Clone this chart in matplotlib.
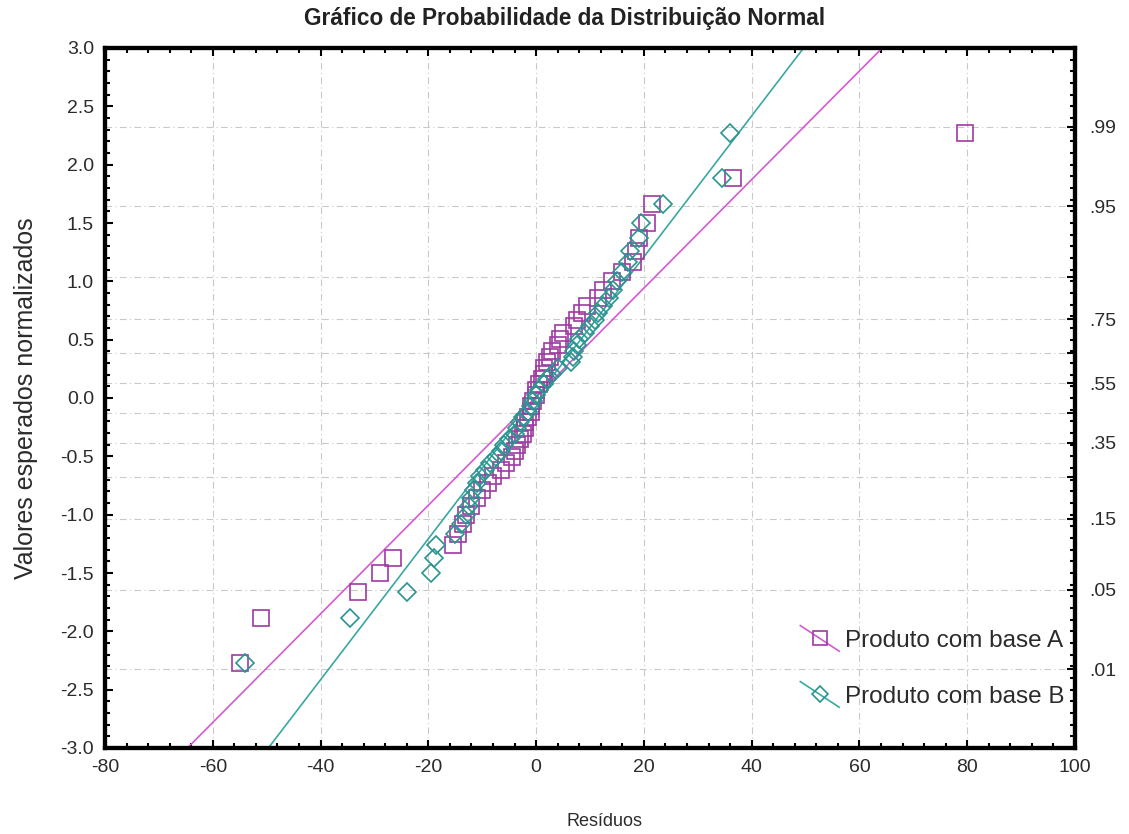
import numpy as np
import matplotlib
matplotlib.use("Agg")
import matplotlib.pyplot as plt
from matplotlib.lines import Line2D
from matplotlib.legend_handler import HandlerBase
from matplotlib.ticker import MultipleLocator, FixedLocator
from statistics import NormalDist

plt.rcParams['font.family'] = ['Liberation Sans', 'DejaVu Sans']
plt.rcParams['axes.unicode_minus'] = False

# residuos ordenados de cada produto
residuos_a = [-55, -51, -33, -29, -26.5, -15.5, -14.5, -13.5, -13, -12,
              -11, -10, -9, -8, -6.5, -5.5, -4.5, -4, -3.5, -3,
              -2.5, -2, -2, -1.5, -1, -1, -0.5, 0, 0, 0.5,
              1, 1.5, 1.5, 2, 2.5, 3, 4, 4.5, 5, 7,
              7.5, 8.5, 9.5, 11.5, 12.5, 14, 16, 18, 18.5, 19,
              20.5, 21.5, 36.5, 79.5]
residuos_b = [-54, -34.5, -24, -19.5, -19, -18.5, -15, -14, -13, -12.5,
              -12, -11.5, -11, -10.5, -9.5, -8.5, -7.5, -6.5, -6, -5,
              -4, -3.5, -3, -2.5, -1.5, -1, -0.5, 0, 0.5, 1.5,
              2, 3, 4, 6.5, 6.8, 7, 7.5, 8, 9, 10,
              11, 11.5, 12.5, 13.5, 14.3, 15, 16, 17, 17.5, 19,
              19.5, 23.5, 34.5, 36]

nomes = ['Produto com base A', 'Produto com base B']
x_ticks = list(range(-80, 101, 20))
y_ticks = [-3.0, -2.5, -2.0, -1.5, -1.0, -0.5, 0.0, 0.5, 1.0, 1.5, 2.0, 2.5, 3.0]
prob_grade = [.01, .05, .15, .25, .35, .45, .55, .65, .75, .85, .95, .99]
prob_rotulos = [.01, .05, .15, .35, .55, .75, .95, .99]

cor_a, linha_a = '#a03aa3', '#d45ad4'
cor_b, linha_b = '#2a9590', '#38a8a0'
cinza = '#c9c9c9'
texto = '#2b2b2b'

nd = NormalDist()


def valores_esperados(n):
    # posicoes de Blom: (j - 3/8) / (n + 1/4)
    return np.array([nd.inv_cdf((j - 0.375) / (n + 0.25)) for j in range(1, n + 1)])


class HandlerDiagonal(HandlerBase):
    def __init__(self, cor_linha):
        super().__init__()
        self.cor_linha = cor_linha

    def create_artists(self, legend, orig_handle, xdescent, ydescent,
                       width, height, fontsize, trans):
        x0, x1 = -xdescent, -xdescent + width
        ym = -ydescent + height / 2
        diag = Line2D([x0, x1], [ym + 0.33 * width, ym - 0.33 * width],
                      color=self.cor_linha, lw=1.2)
        marca = Line2D([(x0 + x1) / 2], [ym], marker=orig_handle.get_marker(),
                       markersize=orig_handle.get_markersize() * 0.85, mfc='none',
                       mec=orig_handle.get_markeredgecolor(),
                       mew=orig_handle.get_markeredgewidth(), ls='none')
        diag.set_transform(trans)
        marca.set_transform(trans)
        return [diag, marca]


fig = plt.figure(figsize=(11.29, 8.34), dpi=100)
ax = fig.add_axes([105 / 1129, 86 / 834, 970 / 1129, 700 / 834])
ax.set_xlim(-80, 100)
ax.set_ylim(-3, 3)

# grade vertical nos ticks principais e horizontal nas probabilidades
for xv in x_ticks:
    ax.axvline(xv, color=cinza, lw=0.8, ls=(0, (6, 3, 1, 3)), zorder=0)
for p in prob_grade:
    ax.axhline(nd.inv_cdf(p), color=cinza, lw=0.8, ls=(0, (6, 3, 1, 3)), zorder=0)

handles = []
for res, cor, cl, mk, ms in [(residuos_a, cor_a, linha_a, 's', 12),
                             (residuos_b, cor_b, linha_b, 'D', 9)]:
    x = np.array(res)
    z = valores_esperados(len(x))
    a, b = np.polyfit(x, z, 1)
    zz = np.array([-3.5, 3.5])
    ax.plot((zz - b) / a, zz, color=cl, lw=1.2, zorder=2)
    h, = ax.plot(x, z, ls='none', marker=mk, ms=ms, mfc='none', mec=cor,
                 mew=1.2, zorder=3)
    handles.append(h)

ax.xaxis.set_major_locator(FixedLocator(x_ticks))
ax.xaxis.set_minor_locator(MultipleLocator(4))
ax.set_yticks(y_ticks)
ax.set_yticklabels([f'{v:.1f}' for v in y_ticks])
ax.yaxis.set_minor_locator(MultipleLocator(0.1))
ax.tick_params(which='both', direction='in', top=True, right=False,
               colors='black', labelcolor=texto, labelsize=14, width=1.5)
ax.tick_params(which='major', length=6, pad=8)
ax.tick_params(which='minor', length=3.5)
for s in ax.spines.values():
    s.set_linewidth(3)

ax2 = ax.twinx()
ax2.set_ylim(-3, 3)
ax2.yaxis.set_major_locator(FixedLocator([nd.inv_cdf(p) for p in prob_grade]))
ax2.set_yticklabels([('%.2f' % p)[1:] if p in prob_rotulos else '' for p in prob_grade])
ax2.yaxis.set_minor_locator(MultipleLocator(0.1))
ax2.tick_params(which='both', direction='in', colors='black', labelcolor=texto,
                labelsize=14, width=1.5)
ax2.tick_params(which='major', length=6, pad=10)
ax2.tick_params(which='minor', length=3.5)
for s in ax2.spines.values():
    s.set_linewidth(3)

ax.set_xlabel('Resíduos', fontsize=13, color=texto)
ax.xaxis.set_label_coords(0.515, -0.093)
ax.set_ylabel('Valores esperados normalizados', fontsize=18, color=texto, labelpad=16)
fig.text(0.5, 0.978, 'Gráfico de Probabilidade da Distribuição Normal',
         ha='center', va='center', fontsize=16.3, fontweight='bold', color='#222222')

ax.legend(handles, nomes, loc='lower right', bbox_to_anchor=(1.012, 0.026),
          frameon=False, fontsize=17.5, labelcolor=texto, handlelength=1.6,
          handletextpad=0.25, labelspacing=1.4,
          handler_map={handles[0]: HandlerDiagonal(linha_a),
                       handles[1]: HandlerDiagonal(linha_b)})

fig.savefig('out.png', dpi=100)
